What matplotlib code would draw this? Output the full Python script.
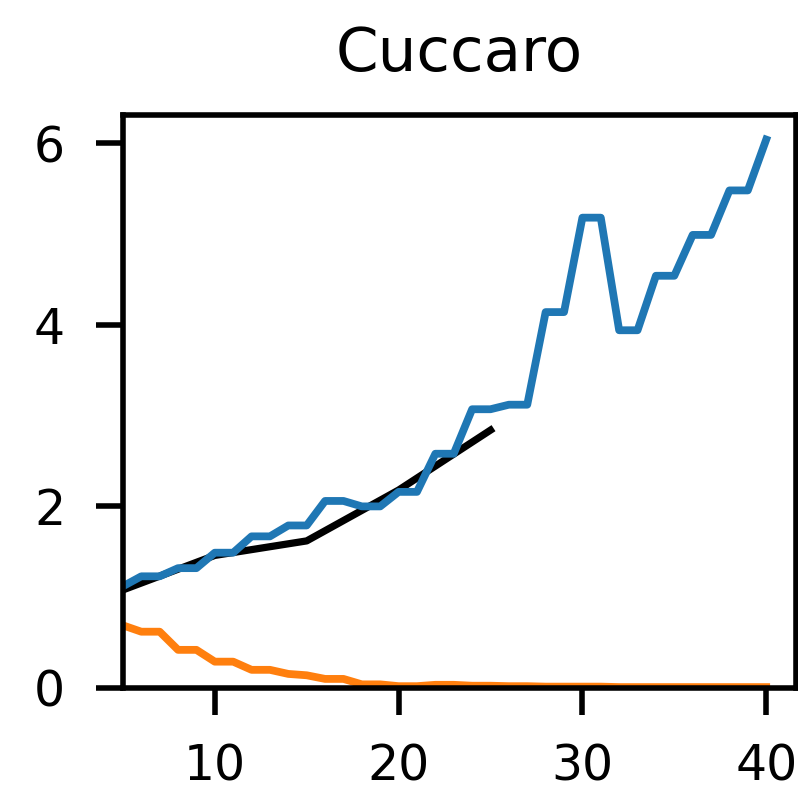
import matplotlib
matplotlib.use("Agg")
import matplotlib.pyplot as plt

# Cuccaro adder: measured series vs. fitted curve
x = list(range(5, 41))
blue = [1.12, 1.23, 1.23, 1.32, 1.32, 1.49, 1.49, 1.67, 1.67, 1.79, 1.79,
        2.06, 2.06, 2.00, 2.00, 2.16, 2.16, 2.58, 2.58, 3.07, 3.07, 3.12,
        3.12, 4.14, 4.14, 5.18, 5.18, 3.94, 3.94, 4.54, 4.54, 4.99, 4.99,
        5.48, 5.48, 6.04]
orange = [0.69, 0.62, 0.62, 0.42, 0.42, 0.29, 0.29, 0.20, 0.20, 0.155, 0.14,
          0.10, 0.10, 0.04, 0.04, 0.02, 0.02, 0.035, 0.035, 0.025, 0.025, 0.02,
          0.02, 0.015, 0.015, 0.015, 0.015, 0.01, 0.01, 0.01, 0.01, 0.01, 0.01,
          0.01, 0.01, 0.01]
fit_x = [5, 10, 15, 20, 25]
fit_y = [1.08, 1.46, 1.62, 2.18, 2.84]

plt.rcParams["font.family"] = "DejaVu Sans"

fig = plt.figure(figsize=(1.995, 1.9675), dpi=400)
ax = fig.add_axes([0.154, 0.1258, 0.843, 0.728])

ax.plot(fit_x, fit_y, color="black", lw=1.3)
ax.plot(x, blue, color="#1f77b4", lw=1.4)
ax.plot(x, orange, color="#ff7f0e", lw=1.4)

ax.set_xlim(5, 41.6)
ax.set_ylim(0, 6.31)
ax.set_xticks([10, 20, 30, 40])
ax.set_yticks([0, 2, 4, 6])
ax.tick_params(labelsize=8.8, length=4.8, width=1.0, pad=5.6)
ax.tick_params(axis="x", pad=5.0)
for s in ax.spines.values():
    s.set_linewidth(1.0)

ax.set_title("Cuccaro", fontsize=11, pad=8)

fig.savefig("out.png", dpi=400)
